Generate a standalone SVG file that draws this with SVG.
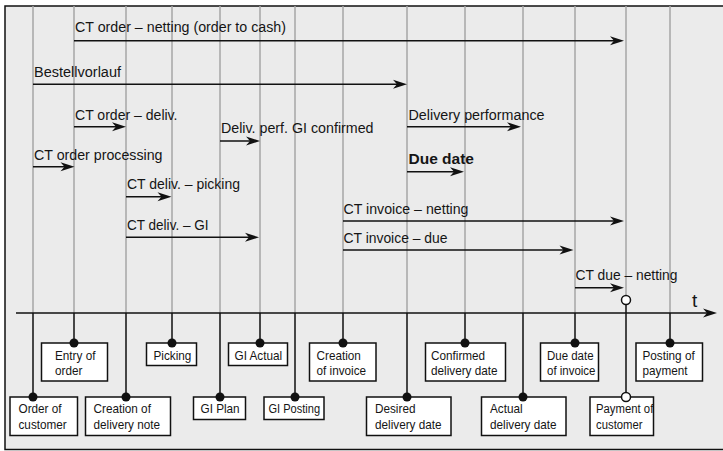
<svg xmlns="http://www.w3.org/2000/svg" width="723" height="451" viewBox="0 0 723 451">
  <style>
    .frame { fill: #ebebeb; stroke: #111; stroke-width: 1.5; }
    .vg { stroke: #a6a6a6; stroke-width: 1.5; fill: none; }
    .vb { stroke: #111; stroke-width: 1.5; fill: none; }
    .arr { stroke: #111; stroke-width: 1.5; fill: none; marker-end: url(#ah); }
    .lbl { font-family: "Liberation Sans", Arial, sans-serif; font-size: 15.5px; fill: #151515; }
    .bold { font-weight: bold; }
    .box { fill: #fff; stroke: #111; stroke-width: 1.5; }
    .btxt { font-family: "Liberation Sans", Arial, sans-serif; font-size: 13.5px; fill: #151515; }
    .dot { fill: #111; }
    .odot { fill: #fff; stroke: #111; stroke-width: 1.5; }
  </style>
  <defs>
    <marker id="ah" viewBox="-16 -6 18 12" refX="-4" refY="0" markerWidth="18" markerHeight="12" markerUnits="userSpaceOnUse" orient="auto">
      <path d="M0,0 L-14,-4.5 L-10,0 L-14,4.5 Z" fill="#111"/>
    </marker>
  </defs>

  <rect width="723" height="451" fill="#fff"/>
  <rect class="frame" x="5" y="6" width="730" height="443.5"/>

  <g id="connectors">
    <path class="vg" d="M33,6V313 M74,6V313 M126,6V313 M172,6V313 M220,6V313 M260,6V313 M295,6V313 M343,6V313 M407,6V313 M465,6V313 M523,6V313 M575,6V313 M626,6V300 M670,6V313"/>
    <path class="vb" d="M33,313V397 M74,313V343 M126,313V397 M172,313V343 M220,313V397 M260,313V343 M295,313V397 M343,313V343 M407,313V397 M465,313V343 M523,313V397 M575,313V343 M626,300V397 M670,313V343"/>
    <line class="arr" x1="16" y1="313" x2="713" y2="313"/>
    <text x="692" y="307" font-family="Liberation Sans, Arial, sans-serif" font-size="19" fill="#151515">t</text>

    <line class="arr" x1="74" y1="40.7" x2="620" y2="40.7"/>
    <line class="arr" x1="33" y1="84.3" x2="403" y2="84.3"/>
    <line class="arr" x1="74" y1="126.7" x2="122" y2="126.7"/>
    <line class="arr" x1="220" y1="141" x2="256" y2="141"/>
    <line class="arr" x1="407" y1="126.7" x2="517" y2="126.7"/>
    <line class="arr" x1="33" y1="166.7" x2="70.5" y2="166.7"/>
    <line class="arr" x1="407" y1="171.7" x2="460" y2="171.7"/>
    <line class="arr" x1="126" y1="196.7" x2="167.5" y2="196.7"/>
    <line class="arr" x1="126" y1="237.3" x2="255" y2="237.3"/>
    <line class="arr" x1="343" y1="221" x2="620" y2="221"/>
    <line class="arr" x1="343" y1="250" x2="569.5" y2="250"/>
    <line class="arr" x1="575" y1="287.7" x2="620" y2="287.7"/>

    <text class="lbl" x="75" y="32" textLength="211" lengthAdjust="spacingAndGlyphs">CT order – netting (order to cash)</text>
    <text class="lbl" x="34" y="76.7" textLength="87" lengthAdjust="spacingAndGlyphs">Bestellvorlauf</text>
    <text class="lbl" x="75" y="120" textLength="102.5" lengthAdjust="spacingAndGlyphs">CT order – deliv.</text>
    <text class="lbl" x="221" y="133" textLength="152.5" lengthAdjust="spacingAndGlyphs">Deliv. perf. GI confirmed</text>
    <text class="lbl" x="408.5" y="119.5" textLength="136" lengthAdjust="spacingAndGlyphs">Delivery performance</text>
    <text class="lbl" x="34" y="159.5" textLength="128.5" lengthAdjust="spacingAndGlyphs">CT order processing</text>
    <text class="lbl bold" x="408.5" y="164" textLength="65.5" lengthAdjust="spacingAndGlyphs">Due date</text>
    <text class="lbl" x="127" y="188.5" textLength="113" lengthAdjust="spacingAndGlyphs">CT deliv. – picking</text>
    <text class="lbl" x="127" y="229.5" textLength="81.5" lengthAdjust="spacingAndGlyphs">CT deliv. – GI</text>
    <text class="lbl" x="343.5" y="213.5" textLength="125" lengthAdjust="spacingAndGlyphs">CT invoice – netting</text>
    <text class="lbl" x="343.5" y="242.5" textLength="104" lengthAdjust="spacingAndGlyphs">CT invoice – due</text>
    <text class="lbl" x="575.5" y="280" textLength="102" lengthAdjust="spacingAndGlyphs">CT due – netting</text>
  </g>

  <g id="entry-of-order">
    <rect class="box" x="41.5" y="343" width="66" height="38"/>
    <circle class="dot" cx="74" cy="343" r="4.5"/>
    <text class="btxt" transform="translate(55,0) scale(0.87,1)"><tspan x="0" y="360.5">Entry of</tspan><tspan x="0" y="375.5">order</tspan></text>
  </g>
  <g id="picking">
    <rect class="box" x="146.5" y="343" width="50" height="22.5"/>
    <circle class="dot" cx="172" cy="343" r="4.5"/>
    <text class="btxt" transform="translate(153.5,0) scale(0.87,1)"><tspan x="0" y="360">Picking</tspan></text>
  </g>
  <g id="gi-actual">
    <rect class="box" x="228.5" y="343" width="59" height="22.5"/>
    <circle class="dot" cx="260" cy="343" r="4.5"/>
    <text class="btxt" transform="translate(234.5,0) scale(0.87,1)"><tspan x="0" y="360">GI Actual</tspan></text>
  </g>
  <g id="creation-of-invoice">
    <rect class="box" x="309.5" y="343" width="66.5" height="38"/>
    <circle class="dot" cx="343" cy="343" r="4.5"/>
    <text class="btxt" transform="translate(316.5,0) scale(0.87,1)"><tspan x="0" y="360">Creation</tspan><tspan x="0" y="375.5">of invoice</tspan></text>
  </g>
  <g id="confirmed-delivery-date">
    <rect class="box" x="425.5" y="343" width="80" height="38"/>
    <circle class="dot" cx="465" cy="343" r="4.5"/>
    <text class="btxt" transform="translate(431,0) scale(0.87,1)"><tspan x="0" y="360">Confirmed</tspan><tspan x="0" y="375.5">delivery date</tspan></text>
  </g>
  <g id="due-date-of-invoice">
    <rect class="box" x="540.5" y="343" width="58" height="38"/>
    <circle class="dot" cx="575" cy="343" r="4.5"/>
    <text class="btxt" transform="translate(547,0) scale(0.85,1)"><tspan x="0" y="360">Due date</tspan><tspan x="0" y="375.5">of invoice</tspan></text>
  </g>
  <g id="posting-of-payment">
    <rect class="box" x="636" y="343" width="66.5" height="38"/>
    <circle class="dot" cx="670" cy="343" r="4.5"/>
    <text class="btxt" transform="translate(642.5,0) scale(0.87,1)"><tspan x="0" y="360">Posting of</tspan><tspan x="0" y="375.5">payment</tspan></text>
  </g>

  <g id="order-of-customer">
    <rect class="box" x="10" y="397" width="67.5" height="38.5"/>
    <circle class="dot" cx="33" cy="397" r="4.5"/>
    <text class="btxt" transform="translate(18.5,0) scale(0.87,1)"><tspan x="0" y="413.5">Order of</tspan><tspan x="0" y="429">customer</tspan></text>
  </g>
  <g id="creation-of-delivery-note">
    <rect class="box" x="85.5" y="397" width="85" height="38.5"/>
    <circle class="dot" cx="126" cy="397" r="4.5"/>
    <text class="btxt" transform="translate(93.5,0) scale(0.87,1)"><tspan x="0" y="413.5">Creation of</tspan><tspan x="0" y="429">delivery note</tspan></text>
  </g>
  <g id="gi-plan">
    <rect class="box" x="193.5" y="397" width="52" height="22.5"/>
    <circle class="dot" cx="220" cy="397" r="4.5"/>
    <text class="btxt" transform="translate(200.5,0) scale(0.87,1)"><tspan x="0" y="413.5">GI Plan</tspan></text>
  </g>
  <g id="gi-posting">
    <rect class="box" x="264" y="397" width="60" height="22.5"/>
    <circle class="dot" cx="295" cy="397" r="4.5"/>
    <text class="btxt" transform="translate(268.5,0) scale(0.82,1)"><tspan x="0" y="413.5">GI Posting</tspan></text>
  </g>
  <g id="desired-delivery-date">
    <rect class="box" x="366.5" y="397" width="84.5" height="38.5"/>
    <circle class="dot" cx="407" cy="397" r="4.5"/>
    <text class="btxt" transform="translate(375,0) scale(0.87,1)"><tspan x="0" y="413.5">Desired</tspan><tspan x="0" y="429">delivery date</tspan></text>
  </g>
  <g id="actual-delivery-date">
    <rect class="box" x="481.5" y="397" width="84.5" height="38.5"/>
    <circle class="dot" cx="523" cy="397" r="4.5"/>
    <text class="btxt" transform="translate(490,0) scale(0.87,1)"><tspan x="0" y="413.5">Actual</tspan><tspan x="0" y="429">delivery date</tspan></text>
  </g>
  <g id="payment-of-customer">
    <rect class="box" x="590" y="397" width="63.5" height="38.5"/>
    <circle class="odot" cx="626" cy="300" r="4.5"/>
    <circle class="odot" cx="626" cy="397" r="4.5"/>
    <text class="btxt" transform="translate(596,0) scale(0.84,1)"><tspan x="0" y="413.5">Payment of</tspan><tspan x="0" y="429">customer</tspan></text>
  </g>
</svg>
